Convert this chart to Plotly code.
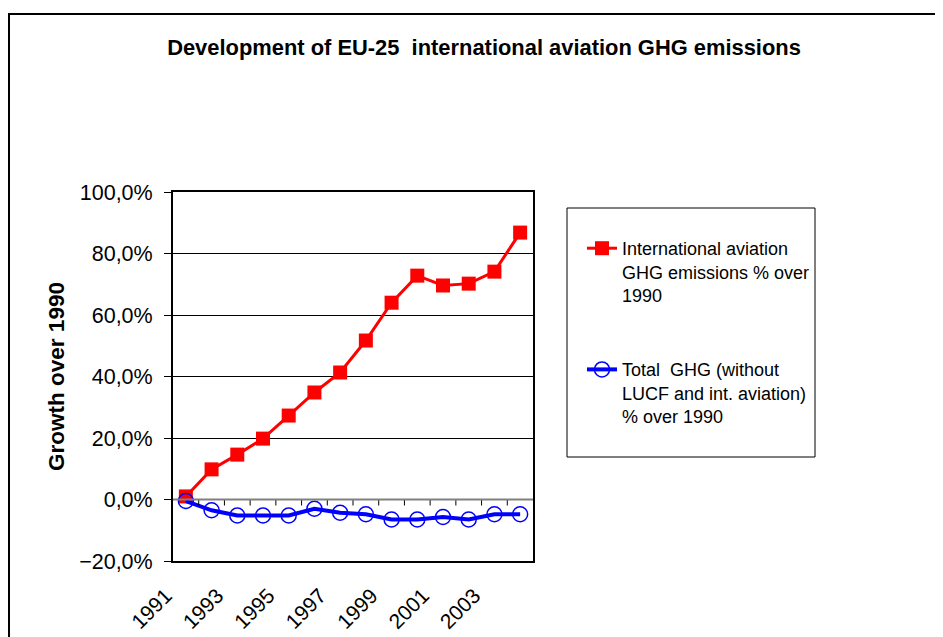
import plotly.graph_objects as go

years = list(range(1991, 2005))
aviation = [0.010, 0.098, 0.146, 0.198, 0.273, 0.348, 0.413, 0.517, 0.640, 0.728, 0.696, 0.702, 0.741, 0.868]
total_ghg = [-0.005, -0.035, -0.052, -0.052, -0.052, -0.030, -0.043, -0.048, -0.065, -0.065, -0.057, -0.065, -0.048, -0.048]
label_years = [1991, 1993, 1995, 1997, 1999, 2001, 2003]
y_ticks = [-0.2, 0.0, 0.2, 0.4, 0.6, 0.8, 1.0]

name_av = "International aviation<br>GHG emissions % over<br>1990"
name_tot = "Total\u00a0\u00a0GHG (without<br>LUCF and int. aviation)<br>% over 1990"

# page has an 8px body margin; work in figure coordinates (screen - 8)
OFF = 8
W, H = 935, 629
L, R, T, B = 173 - OFF, 533 - OFF, 192 - OFF, 561 - OFF
PW, PH = R - L, B - T


def px(xs):
    return (xs - OFF - L) / PW


def py(ys):
    return (B - (ys - OFF)) / PH


fig = go.Figure()
fig.add_trace(go.Scatter(
    x=years, y=aviation, mode="lines+markers", name=name_av, legendgroup="a",
    line=dict(color="#ff0000", width=3),
    marker=dict(symbol="square", size=14, color="#ff0000"),
))
fig.add_trace(go.Scatter(
    x=years, y=total_ghg, mode="lines+markers", name=name_tot, legendgroup="b",
    line=dict(color="#0000ff", width=4),
    marker=dict(symbol="circle-open", size=15, color="#0000ff", line=dict(width=1.5)),
))

shapes = []
for yr in years[:-1]:
    shapes.append(dict(type="line", xref="x", yref="y", x0=yr + 0.5, x1=yr + 0.5,
                       ysizemode="pixel", yanchor=0, y0=0, y1=-6,
                       line=dict(color="#000000", width=1)))
shapes.append(dict(type="line", xref="paper", yref="y", x0=0, x1=1, y0=0, y1=0,
                   line=dict(color="#808080", width=2)))
shapes.append(dict(type="rect", xref="paper", yref="paper",
                   x0=px(567), x1=px(815), y0=py(457), y1=py(208),
                   line=dict(color="#000000", width=1), fillcolor="rgba(0,0,0,0)"))
shapes.append(dict(type="rect", xref="paper", yref="paper",
                   x0=px(9), x1=px(990), y0=py(700), y1=py(14),
                   line=dict(color="#000000", width=2), fillcolor="rgba(0,0,0,0)"))

fig.update_layout(
    width=W, height=H,
    margin=dict(l=L, r=W - R, t=T, b=H - B, autoexpand=False),
    paper_bgcolor="white", plot_bgcolor="white",
    separators=",.",
    font=dict(family="Arial, Liberation Sans, sans-serif", color="#000000"),
    title=dict(text="<b>Development of EU-25\u00a0\u00a0international aviation GHG emissions</b>",
               x=(484 - OFF) / W, xanchor="center", y=1 - (47 - OFF) / H, yanchor="middle",
               font=dict(size=21.9)),
    showlegend=True,
    legend=dict(x=px(582), xanchor="left", y=py(230), yanchor="top",
                bgcolor="rgba(0,0,0,0)", borderwidth=0, font=dict(size=18),
                valign="top", tracegroupgap=48, traceorder="grouped"),
    shapes=shapes,
    xaxis=dict(range=[1990.5, 2004.5], tickmode="array", tickvals=label_years,
               ticktext=[str(y) for y in label_years], tickangle=-45, automargin=False,
               showgrid=False, zeroline=False, ticks="", tickfont=dict(size=21),
               showline=True, linecolor="#000000", linewidth=2, mirror=True,
               ticklabelshift=-20, ticklabelstandoff=12),
    yaxis=dict(range=[-0.2, 1.0], tickmode="array", tickvals=y_ticks, tickformat=".1%",
               automargin=False,
               showgrid=True, gridcolor="#000000", gridwidth=1, zeroline=False,
               ticks="outside", ticklen=7, tickcolor="#000000", tickfont=dict(size=21.5),
               ticklabelstandoff=7,
               showline=True, linecolor="#000000", linewidth=2, mirror=True,
               title=dict(text="<b>Growth over 1990</b>", font=dict(size=22.5), standoff=8)),
)

fig.write_html("out.html")
